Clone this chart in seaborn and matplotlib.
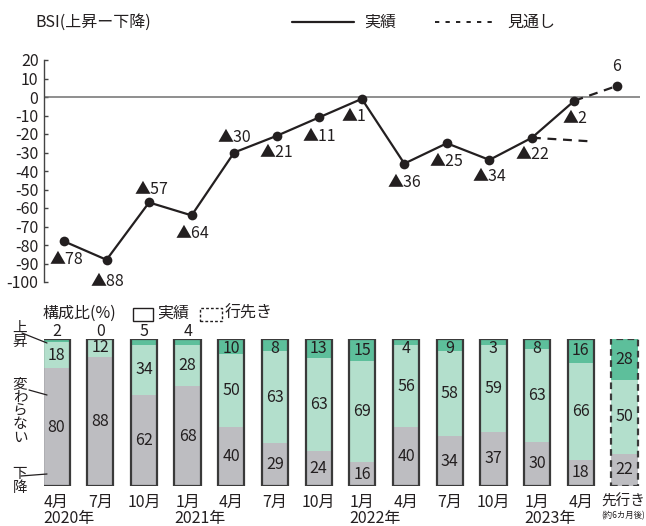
import matplotlib
matplotlib.use("Agg")
import matplotlib.pyplot as plt
from matplotlib.lines import Line2D
from matplotlib.patches import Rectangle
import numpy as np
import pandas as pd
import seaborn as sns

# ---- data ----
months = ["4月", "7月", "10月", "1月", "4月", "7月", "10月",
          "1月", "4月", "7月", "10月", "1月", "4月", "先行き"]
year_labels = ["2020年", "2021年", "2022年", "2023年"]
year_at = [0, 3, 7, 11]
bsi = [-78, -88, -57, -64, -30, -21, -11, -1, -36, -25, -34, -22, -2]
outlook_next = 6            # 約6カ月後の見通し
prev_outlook = -24          # 前回調査時の見通し
prev_outlook_reach = 1.4    # 前回見通し線の長さ(期間数)
up = [2, 0, 5, 4, 10, 8, 13, 15, 4, 9, 3, 8, 16, 28]
same = [18, 12, 34, 28, 50, 63, 63, 69, 56, 58, 59, 63, 66, 50]
down = [80, 88, 62, 68, 40, 29, 24, 16, 40, 34, 37, 30, 18, 22]
yticks = list(range(20, -101, -10))

# ---- style ----
sns.set_theme(style="white")
plt.rcParams["font.family"] = ["Noto Sans CJK JP", "DejaVu Sans"]
INK = "#231f20"
GRAY = "#bdbdc1"
LIGHT_GREEN = "#b3dfcc"
DARK_GREEN = "#5dbf9b"
FS = 11.5

W, H = 646, 526
fig = plt.figure(figsize=(W / 100, H / 100), dpi=100)
fig.patch.set_facecolor("white")


def fx(x):
    return x / W


def fy(y):
    return 1 - y / H


def label_text(v):
    return f"▲{abs(v)}" if v < 0 else str(v)


# ---- BSI line chart ----
ax = fig.add_axes([fx(44), fy(282), fx(640) - fx(44), fy(60) - fy(282)])
ax.set_facecolor("none")
n = len(bsi)
idx = np.arange(n)
line_df = pd.DataFrame({"t": idx, "bsi": bsi})
sns.lineplot(data=line_df, x="t", y="bsi", ax=ax, color=INK, lw=1.6,
             marker="o", markersize=7, markeredgewidth=0, zorder=4)

# outlook lines
ax.plot([n - 1, n], [bsi[-1], outlook_next], color=INK, lw=1.6,
        ls=(0, (4, 3)), zorder=3)
ax.plot([n], [outlook_next], "o", color=INK, ms=7, mew=0, zorder=4)
ax.plot([n - 2, n - 2 + prev_outlook_reach], [bsi[-2], prev_outlook],
        color=INK, lw=1.6, ls=(0, (4, 3)), zorder=3)

ax.axhline(0, color="#707070", lw=1.1, zorder=1)
ax.set_xlim(-0.47, 13.54)
ax.set_ylim(-100, 20)
ax.set_yticks(yticks)
ax.set_yticklabels([str(t) for t in yticks], fontsize=FS, color=INK)
ax.set_xticks([])
ax.set_xlabel("")
ax.set_ylabel("")
for s in ["top", "right", "bottom"]:
    ax.spines[s].set_visible(False)
ax.spines["left"].set_color("#444444")
ax.spines["left"].set_linewidth(1.0)
ax.tick_params(axis="y", direction="in", length=3, width=1.0,
               color="#444444", pad=4, left=True)

offsets = [(2, -18), (1, -22), (2, 13), (1, -18), (0, 15), (0, -17), (0, -19),
           (-8, -18), (0, -19), (0, -18), (0, -17), (0, -17), (0, -18)]
for i, v in enumerate(bsi):
    ax.annotate(label_text(v), (i, v), xytext=offsets[i],
                textcoords="offset pixels", ha="center", va="center",
                fontsize=FS, color=INK)
ax.annotate(label_text(outlook_next), (n, outlook_next), xytext=(0, 19),
            textcoords="offset pixels", ha="center", va="center",
            fontsize=FS, color=INK)

# title and legend
fig.text(fx(35), fy(22), "BSI(上昇ー下降)", fontsize=FS, color=INK,
         ha="left", va="center")
fig.add_artist(Line2D([fx(292), fx(354)], [fy(22), fy(22)], color=INK,
                      lw=1.6, transform=fig.transFigure))
fig.text(fx(364), fy(22), "実績", fontsize=FS, color=INK, ha="left",
         va="center")
fig.add_artist(Line2D([fx(435), fx(497)], [fy(22), fy(22)], color=INK,
                      lw=1.4, ls=(0, (2.2, 3.2)), transform=fig.transFigure))
fig.text(fx(507), fy(22), "見通し", fontsize=FS, color=INK, ha="left",
         va="center")

# ---- composition bars ----
axb = fig.add_axes([fx(44), fy(486), fx(640) - fx(44), fy(339) - fy(486)])
axb.set_facecolor("none")
nb = len(up)
pos = np.arange(nb)
bar_df = pd.DataFrame({"pos": pos, "down": down, "same": same, "up": up})
bar_df["mid_top"] = bar_df["down"] + bar_df["same"]
bar_df["top"] = bar_df["mid_top"] + bar_df["up"]

for col, colr in [("top", DARK_GREEN), ("mid_top", LIGHT_GREEN),
                  ("down", GRAY)]:
    sns.barplot(data=bar_df, x="pos", y=col, ax=axb, color=colr,
                saturation=1, width=0.6, native_scale=True, errorbar=None,
                linewidth=0, edgecolor="none")

for i in pos:
    axb.bar(i, 100, width=0.6, fill=False, edgecolor="#3a3a3a", lw=1.6,
            ls="-" if i < nb - 1 else (0, (3, 2)), zorder=5)

up_above = {0, 1, 2, 3}
for i in pos:
    d, s, u = down[i], same[i], up[i]
    axb.text(i, d / 2, str(d), ha="center", va="center", fontsize=FS,
             color=INK, zorder=6)
    axb.text(i, d + s / 2, str(s), ha="center", va="center", fontsize=FS,
             color=INK, zorder=6)
    if i in up_above:
        axb.annotate(str(u), (i, 100), xytext=(0, 8),
                     textcoords="offset pixels", ha="center", va="center",
                     fontsize=FS, color=INK, annotation_clip=False)
    else:
        axb.text(i, min(d + s + u / 2, 93.5), str(u), ha="center",
                 va="center", fontsize=FS, color=INK, zorder=6)

axb.set_xlim(-0.286, 13.355)
axb.set_ylim(0, 100)
axb.axis("off")

# month / year labels
for i, m in enumerate(months):
    last = i == len(months) - 1
    axb.annotate(m, (i, 0), xytext=(-1 if last else 0, -16),
                 textcoords="offset pixels", ha="center", va="center",
                 fontsize=10.5 if last else FS, color=INK,
                 annotation_clip=False)
for i, yl in zip(year_at, year_labels):
    axb.annotate(yl, (i - 0.3, 0), xytext=(0, -33),
                 textcoords="offset pixels", ha="left", va="center",
                 fontsize=FS, color=INK, annotation_clip=False)
axb.annotate("(約6カ月後)", (nb - 1, 0), xytext=(-1, -30),
             textcoords="offset pixels", ha="center", va="center",
             fontsize=6, color=INK, annotation_clip=False)

# composition legend
fig.text(fx(43), fy(313), "構成比(%)", fontsize=FS, color=INK,
         ha="left", va="center")
fig.add_artist(Rectangle((fx(133), fy(321)), fx(153) - fx(133),
                         fy(308) - fy(321), fill=False, edgecolor=INK,
                         lw=1.0, transform=fig.transFigure))
fig.text(fx(157), fy(313), "実績", fontsize=FS, color=INK, ha="left",
         va="center")
fig.add_artist(Rectangle((fx(200), fy(321)), fx(222) - fx(200),
                         fy(308) - fy(321), fill=False, edgecolor=INK,
                         lw=1.0, ls=(0, (2, 1.5)), transform=fig.transFigure))
fig.text(fx(225), fy(313), "行先き", fontsize=FS, color=INK, ha="left",
         va="center")

# category labels on the left
fig.text(fx(20), fy(335), "上\n昇", fontsize=10.5, color=INK, ha="center",
         va="center", linespacing=0.95)
fig.text(fx(20), fy(411), "変\nわ\nら\nな\nい", fontsize=10.5, color=INK,
         ha="center", va="center", linespacing=0.95)
fig.text(fx(20), fy(481), "下\n降", fontsize=10.5, color=INK, ha="center",
         va="center", linespacing=0.95)
for (x0, y0, x1, y1) in [(22, 333, 47, 343), (29, 390, 47, 395),
                         (21, 476, 47, 474)]:
    fig.add_artist(Line2D([fx(x0), fx(x1)], [fy(y0), fy(y1)], color=INK,
                          lw=0.9, transform=fig.transFigure))

fig.savefig("out.png", dpi=100)
